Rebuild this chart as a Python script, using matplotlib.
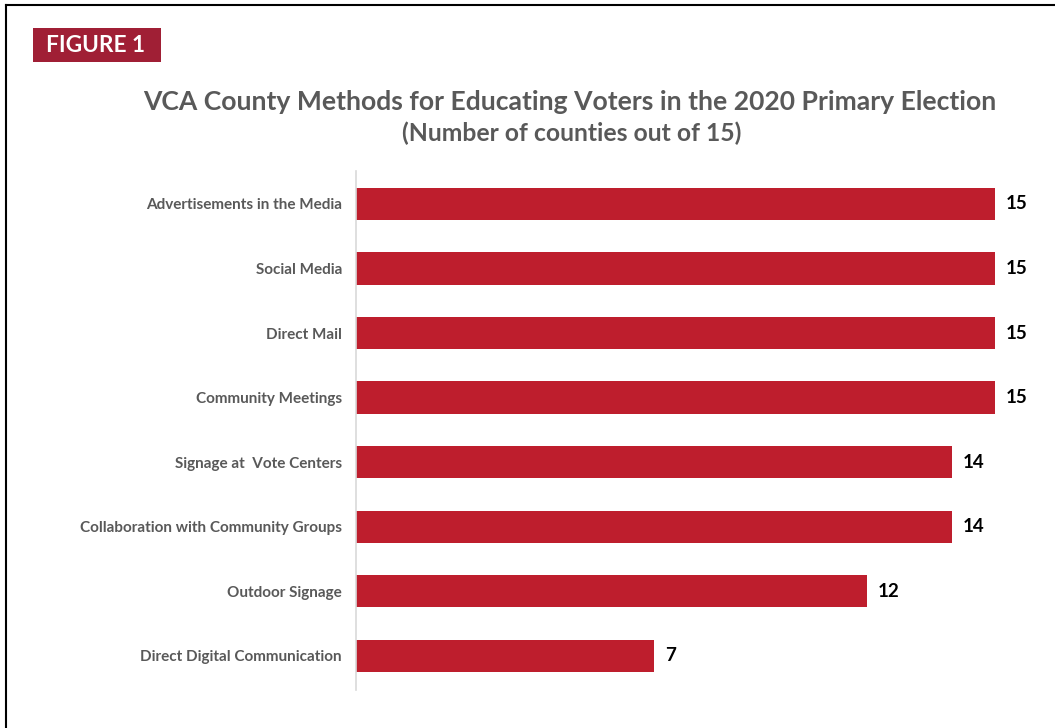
import matplotlib
matplotlib.use("Agg")
import matplotlib.pyplot as plt
from matplotlib.patches import Rectangle
from matplotlib.lines import Line2D

categories = ["Advertisements in the Media", "Social Media", "Direct Mail",
              "Community Meetings", "Signage at  Vote Centers",
              "Collaboration with Community Groups", "Outdoor Signage",
              "Direct Digital Communication"]
values = [15, 15, 15, 15, 14, 14, 12, 7]

W, H = 1055, 728
fig = plt.figure(figsize=(W/100, H/100), dpi=100)
fig.patch.set_facecolor("white")
FONT = ["Lato", "DejaVu Sans"]

def fx(x): return x / W
def fy(y): return 1 - y / H

ax = fig.add_axes([fx(356), fy(690), fx(1016) - fx(356), fy(171) - fy(690)])
ypos = list(range(len(categories)))
ax.barh(ypos, values, height=0.5, color="#BE1E2D", left=0)
ax.set_xlim(0, 15.5)
ax.set_ylim(7.53, -0.51)
ax.set_yticks(ypos)
ax.set_yticklabels(categories, fontsize=11, fontweight="bold", color="#595959", family=FONT)
ax.tick_params(axis="y", length=0, pad=10)
ax.set_xticks([])
for s in ["top", "right", "bottom"]:
    ax.spines[s].set_visible(False)
ax.spines["left"].set_color("#D9D9D9")
ax.spines["left"].set_linewidth(1.2)
for y, v in zip(ypos, values):
    ax.text(v + 0.26, y, str(v), va="center", ha="left", fontsize=13.5,
            fontweight="bold", color="black", family=FONT)

fig.text(fx(570), fy(102), "VCA County Methods for Educating Voters in the 2020 Primary Election",
         ha="center", va="center", fontsize=19.1, fontweight="bold", color="#595959", family=FONT)
fig.text(fx(572), fy(133), "(Number of counties out of 15)",
         ha="center", va="center", fontsize=17.8, fontweight="bold", color="#595959", family=FONT)

fig.patches.append(Rectangle((fx(33), fy(62)), fx(161) - fx(33), fy(28) - fy(62),
                             transform=fig.transFigure, facecolor="#A01F35", edgecolor="none"))
fig.text(fx(96), fy(45.5), "FIGURE 1", ha="center", va="center", fontsize=16.3,
         fontweight="bold", color="white", family=FONT)

fig.lines.append(Line2D([fx(6), fx(6)], [0, fy(5)], transform=fig.transFigure, color="black", lw=1.5))
fig.lines.append(Line2D([fx(6), 1], [fy(5), fy(5)], transform=fig.transFigure, color="black", lw=1.5))

fig.savefig("out.png", dpi=100)
